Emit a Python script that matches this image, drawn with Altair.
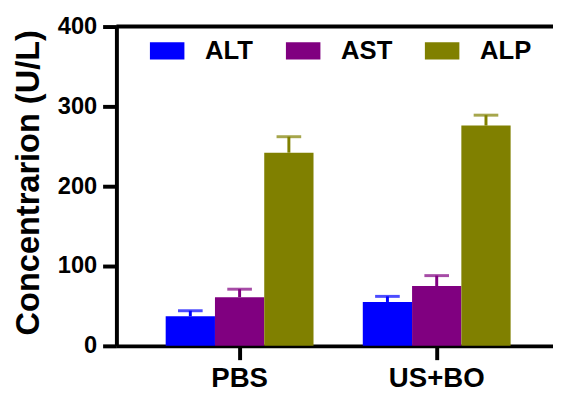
import altair as alt
import pandas as pd

groups = ["PBS", "US+BO"]
series = ["ALT", "AST", "ALP"]
colors = ["#0000FF", "#800080", "#808000"]
pbs_means = [37, 61, 242]
pbs_errs = [7, 10, 20]
usbo_means = [55, 75, 276]
usbo_errs = [7, 13, 13]

rows = []
for g, means, errs in [("PBS", pbs_means, pbs_errs), ("US+BO", usbo_means, usbo_errs)]:
    for s, m, e in zip(series, means, errs):
        rows.append({"group": g, "series": s, "mean": m, "upper": m + e})
df = pd.DataFrame(rows)

FONT = "Liberation Sans"

x_enc = alt.X(
    "group:N",
    sort=groups,
    scale=alt.Scale(paddingInner=0.25, paddingOuter=0.25),
    axis=alt.Axis(
        title=None, labelAngle=0, labelFontSize=28, labelFont=FONT, labelFontWeight="bold",
        labelColor="black", domainColor="black", domainWidth=4, tickColor="black",
        tickWidth=4, tickSize=14, labelPadding=5,
    ),
)
xoff = alt.XOffset("series:N", sort=series)
color_enc = alt.Color(
    "series:N",
    sort=series,
    scale=alt.Scale(domain=series, range=colors),
    legend=alt.Legend(
        orient="none", legendX=34, legendY=7, direction="horizontal", title=None,
        symbolType="M-1,-0.5H1V0.5H-1Z", symbolSize=1225, symbolStrokeWidth=0,
        labelFontSize=26, labelFont=FONT, labelFontWeight="bold", labelColor="black",
        labelOffset=21, columnPadding=33,
    ),
)
y_axis = alt.Axis(
    title="Concentrarion (U/L)", values=[0, 100, 200, 300, 400],
    titleFontSize=33, titleFont=FONT, titleFontWeight="bold", titleColor="black",
    titleY=158,
    labelFontSize=24, labelFont=FONT, labelFontWeight="bold", labelColor="black",
    domainColor="black", domainWidth=4, tickColor="black", tickWidth=4, tickSize=14,
    labelPadding=6, titlePadding=12, grid=False,
)
y_scale = alt.Scale(domain=[0, 400], nice=False)

base = alt.Chart(df)

bars = base.mark_bar(stroke=None).encode(
    x=x_enc,
    xOffset=xoff,
    y=alt.Y("mean:Q", scale=y_scale, axis=y_axis),
    color=color_enc,
)
err_rule = base.mark_rule(strokeWidth=3).encode(
    x=alt.X("group:N", sort=groups),
    xOffset=xoff,
    y="mean:Q",
    y2="upper:Q",
    color=alt.Color("series:N", sort=series, legend=None),
)
err_cap = base.mark_tick(orient="horizontal", size=25, thickness=3).encode(
    x=alt.X("group:N", sort=groups),
    xOffset=xoff,
    y="upper:Q",
    color=alt.Color("series:N", sort=series, legend=None),
)
top_line = alt.Chart(pd.DataFrame({"v": [400]})).mark_rule(color="black", strokeWidth=4).encode(
    y=alt.Y("v:Q", scale=y_scale)
)

chart = alt.layer(bars, err_rule, err_cap, top_line).properties(
    width=450,
    height=324,
    autosize=alt.AutoSizeParams(type="none"),
    padding={"left": 110, "top": 16, "right": -7, "bottom": 45},
).configure_view(stroke=None)

chart.save("out.html", embed_options={"renderer": "svg", "actions": False})
